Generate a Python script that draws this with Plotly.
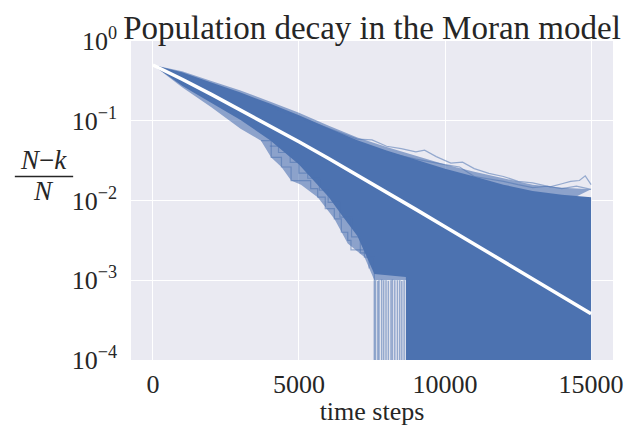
import plotly.graph_objects as go

BLUE = "rgb(76,114,176)"
BLUE_A = "rgba(76,114,176,0.6)"
LINE_A = "rgba(76,114,176,0.55)"
BG = "#EAEAF2"
FONT = "Liberation Serif"
TXT = "#262626"

# shared time grid (time steps)
t_grid = [0, 1000, 2000, 3000, 4000, 5000, 6000, 7000, 8000,
          9000, 10000, 11000, 12000, 13000, 14000, 15000]

# mean fraction (white curve)
mean_frac = [0.5, 0.332, 0.214, 0.136, 0.0869, 0.0545, 0.0338, 0.0208, 0.0127,
             0.00774, 0.00470, 0.00286, 0.00173, 0.00105, 0.000635, 0.000381]

# top edges of the bundle of runs
outer_top = [0.5, 0.417, 0.316, 0.240, 0.174, 0.126, 0.0871, 0.0617, 0.0468,
             0.0363, 0.0282, 0.0229, 0.0191, 0.0158, 0.0145, 0.0138]
dense_top = [0.5, 0.405, 0.302, 0.226, 0.164, 0.117, 0.0810, 0.0570, 0.0425,
             0.0325, 0.0250, 0.0200, 0.0158, 0.0132, 0.0118, 0.0110]

# bottom edge of the solid part (1e-6 = extinct, below the axis)
t_dense_low = [0, 1000, 2000, 3000, 4000, 5000, 6000, 6500, 7000, 7250, 7580, 8660, 8661, 15000]
dense_low = [0.5, 0.275, 0.166, 0.102, 0.0575, 0.0282, 0.0112, 0.0063, 0.0036,
             0.0022, 0.0012, 0.0011, 1e-6, 1e-6]

# bottom edge of the sparse stragglers
t_outer_low = [0, 1000, 2000, 3000, 3700, 4050, 4400, 4730, 5070, 5640, 6210,
               6670, 7240, 7580, 8660]
outer_low = [0.5, 0.263, 0.148, 0.0794, 0.0562, 0.0347, 0.0263, 0.0178, 0.0158,
             0.0110, 0.00589, 0.00288, 0.00195, 0.001, 0.001]

# a few individual runs that stand out
t_run_a = [4000, 5000, 6000, 7000, 7500, 8000, 8500, 9000, 9300, 9700, 10200, 10600,
           11000, 11500, 12000, 12500, 13000, 13600, 14000, 14300, 14600, 14800, 15000]
run_a = [0.151, 0.110, 0.0794, 0.0589, 0.0575, 0.0479, 0.0447, 0.0407, 0.0427, 0.0355,
         0.0295, 0.0302, 0.0251, 0.0219, 0.0200, 0.0174, 0.0166, 0.0148, 0.0162,
         0.0174, 0.0178, 0.0204, 0.0158]
t_run_b = [8000, 9000, 10000, 10500, 11000, 12000, 12500, 13000, 13500, 14000, 14500, 15000]
run_b = [0.0398, 0.0331, 0.0282, 0.0263, 0.0200, 0.0174, 0.0158, 0.0145, 0.0151,
         0.0141, 0.0151, 0.0138]
t_run_c = [3700, 4050, 4400, 4730, 5070, 5400, 5640, 5900, 6210, 6450, 6670, 6780, 7240, 7580]
run_c = [0.0562, 0.0347, 0.0263, 0.0178, 0.0178, 0.0141, 0.0110, 0.0079, 0.00589,
         0.0040, 0.00316, 0.00240, 0.00195, 0.00100]
t_run_d = [4000, 4300, 4700, 5000, 5300, 5700, 6000, 6400, 6800, 7100, 7400]
run_d = [0.048, 0.040, 0.030, 0.022, 0.019, 0.0135, 0.0095, 0.0062, 0.0035, 0.0022, 0.0014]

# extinction events: time and level just before dropping to zero
t_extinct = [7580, 7620, 7700, 7740, 7830, 7900, 7980, 8060, 8150, 8200, 8280, 8370, 8450, 8520, 8600]
level_extinct = [0.00100, 0.00100, 0.00098, 0.00100, 0.00102, 0.00100, 0.00100, 0.00098,
                 0.00100, 0.00102, 0.00100, 0.00100, 0.00100, 0.00098, 0.00100]

y_ticks = [1e-4, 1e-3, 1e-2, 1e-1, 1]
y_tick_text = ["10<sup>−4</sup>", "10<sup>−3</sup>", "10<sup>−2</sup>", "10<sup>−1</sup>", "10<sup>0</sup>"]
x_ticks = [0, 5000, 10000, 15000]
x_tick_text = ["0", "5000", "10000", "15000"]

fig = go.Figure()

# sparse envelope
fig.add_trace(go.Scatter(
    x=t_grid + t_outer_low[::-1], y=outer_top + outer_low[::-1],
    fill="toself", fillcolor=BLUE_A, mode="lines", line=dict(width=0),
    hoverinfo="skip", showlegend=False,
))
# solid core
fig.add_trace(go.Scatter(
    x=t_grid + t_dense_low[::-1], y=dense_top + dense_low[::-1],
    fill="toself", fillcolor=BLUE, mode="lines", line=dict(width=0),
    hoverinfo="skip", showlegend=False,
))

runs = [(t_run_a, run_a, "linear"), (t_run_b, run_b, "linear"),
        (t_run_c, run_c, "hv"), (t_run_d, run_d, "hv")]
for tx, vy, shape in runs:
    fig.add_trace(go.Scatter(
        x=tx, y=vy, mode="lines", line=dict(color=LINE_A, width=1.2, shape=shape),
        hoverinfo="skip", showlegend=False,
    ))

# vertical drops to extinction
drop_x, drop_y = [], []
for t, lv in zip(t_extinct, level_extinct):
    drop_x += [t, t, None]
    drop_y += [lv, 1e-6, None]
fig.add_trace(go.Scatter(
    x=drop_x, y=drop_y, mode="lines", line=dict(color=LINE_A, width=1.5),
    hoverinfo="skip", showlegend=False,
))

# mean
fig.add_trace(go.Scatter(
    x=t_grid, y=mean_frac, mode="lines", line=dict(color="white", width=3.5),
    hoverinfo="skip", showlegend=False,
))

# y label as a fraction
fig.add_annotation(text="<i>N</i>−<i>k</i>", xref="paper", yref="paper",
                   x=-0.182, y=0.626, xanchor="center", yanchor="middle", showarrow=False,
                   font=dict(family=FONT, size=27, color=TXT))
fig.add_annotation(text="<i>N</i>", xref="paper", yref="paper",
                   x=-0.182, y=0.531, xanchor="center", yanchor="middle", showarrow=False,
                   font=dict(family=FONT, size=27, color=TXT))
fig.add_shape(type="line", xref="paper", yref="paper",
              x0=-0.241, x1=-0.120, y0=0.575, y1=0.575,
              line=dict(color=TXT, width=1.5))

# page body has an 8px margin, so the figure is drawn 8px smaller
fig.update_layout(
    width=630, height=418,
    paper_bgcolor="white", plot_bgcolor=BG,
    margin=dict(l=123, r=25, t=33, b=66),
    font=dict(family=FONT, size=26, color=TXT),
    title=dict(text="Population decay in the Moran model", x=0.5, xref="paper",
               y=1 - 19 / 418, yref="container", yanchor="middle",
               font=dict(family=FONT, size=33, color=TXT)),
    xaxis=dict(
        range=[-750, 15750], tickvals=x_ticks, ticktext=x_tick_text, ticks="",
        showline=False, gridcolor="white", gridwidth=1.2, zeroline=False,
        ticklabelstandoff=6, automargin=False,
        title=dict(text="time steps", standoff=6, font=dict(family=FONT, size=26, color=TXT)),
    ),
    yaxis=dict(
        type="log", range=[-4, 0], tickvals=y_ticks, ticktext=y_tick_text,
        ticks="", showline=False, gridcolor="white", gridwidth=1.2, zeroline=False,
        ticklabelstandoff=13, automargin=False,
    ),
)

fig.write_html("out.html")
